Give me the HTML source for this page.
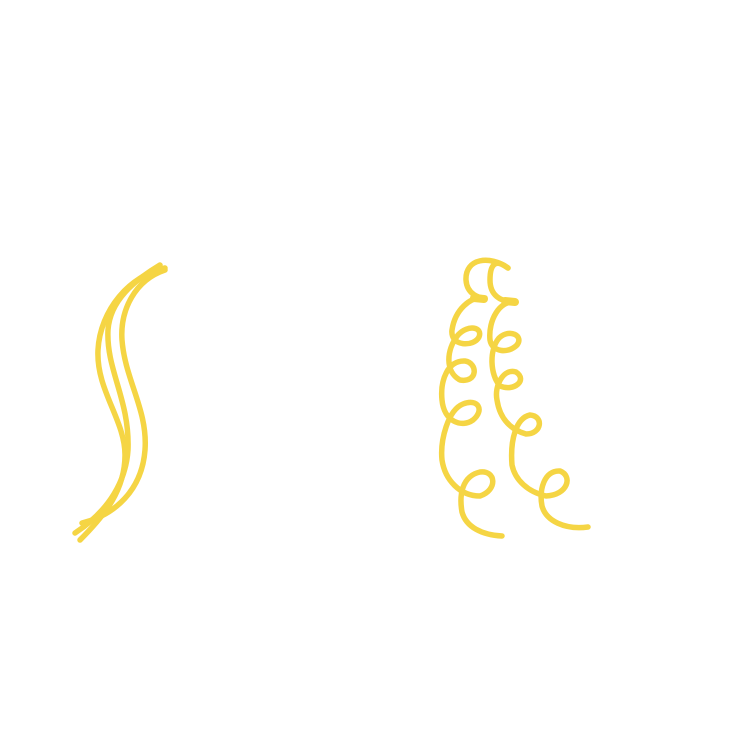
<!DOCTYPE html>
<html><head><meta charset="utf-8"><style>
html,body{margin:0;padding:0;background:#fff;width:729px;height:729px;overflow:hidden}
</style></head><body>
<svg width="729" height="729" viewBox="0 0 729 729">
<g fill="none" stroke="#f5d544" stroke-width="5.5" stroke-linecap="round" stroke-linejoin="round">
<g>
<path d="M165,268 C130,275 100,310 98,350 C96,390 125,420 125,455 C125,490 105,515 80,540"/>
<path d="M160,265 C135,280 110,300 108,330 C106,370 130,400 128,450 C126,480 110,510 75,533"/>
<path d="M165,270 C135,280 120,310 122,340 C125,380 148,410 145,450 C142,490 115,515 82,523"/>
</g>
<g>
<path d="M508,268 C490,255 465,258 466,280 C467,295 480,298 485,298 C470,296 455,310 452,330 C450,347 474,347 479,337 C483,327 468,324 458,335 C446,350 445,372 460,380 C478,383 478,363 465,361 C448,360 440,380 442,400 C444,422 462,428 473,420 C485,410 478,398 463,404 C448,410 440,440 442,460 C445,480 460,496 480,496 C498,490 496,470 480,472 C462,476 459,495 462,512 C466,527 482,535 502,536"/>
<path d="M508,268 C495,258 490,265 490,280 C490,295 500,302 515,302 C500,300 488,320 490,340 C492,352 508,354 517,345 C524,336 510,328 499,338 C489,350 490,375 500,386 C514,392 528,380 516,372 C504,368 494,385 497,400 C500,420 512,430 526,434 C542,434 544,416 530,415 C516,418 510,440 512,465 C515,480 528,492 546,496 C568,495 573,476 560,471 C544,470 539,490 542,506 C546,521 565,530 588,527"/>
</g>
<g stroke-width="8">
<path d="M474,298 L484,299"/>
<path d="M505,301 L515,302"/>
</g>
</g>
</svg>
</body></html>
